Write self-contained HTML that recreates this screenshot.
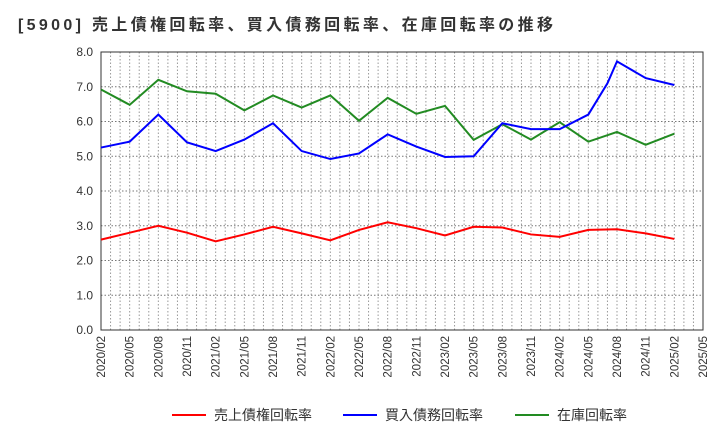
<!DOCTYPE html>
<html><head><meta charset="utf-8"><style>
body{margin:0;background:#fff;font-family:"Liberation Sans","Noto Sans CJK JP",sans-serif;}
</style></head><body>
<svg id="c" width="720" height="440" xmlns="http://www.w3.org/2000/svg">
<text x="18" y="30" font-size="16" font-weight="bold" fill="#333" textLength="535" lengthAdjust="spacing" font-family="Liberation Sans,Noto Sans CJK JP,sans-serif">[5900]  売上債権回転率、買入債務回転率、在庫回転率の推移</text>
</svg>
<script>
const xLabels=["2020/02","2020/05","2020/08","2020/11","2021/02","2021/05","2021/08","2021/11","2022/02","2022/05","2022/08","2022/11","2023/02","2023/05","2023/08","2023/11","2024/02","2024/05","2024/08","2024/11","2025/02","2025/05"];
const yTicks=[0,1,2,3,4,5,6,7,8];
const qMonths=[0,3,6,9,12,15,18,21,24,27,30,33,36,39,42,45,48,51,54,57,60];
const redVals=[2.6,2.8,3.0,2.8,2.55,2.75,2.97,2.78,2.58,2.88,3.1,2.93,2.72,2.97,2.95,2.75,2.68,2.88,2.9,2.78,2.62];
const blueMonths=[0,3,6,9,12,15,18,21,24,27,30,33,36,39,42,45,48,51,53,54,57,60];
const blueVals=[5.25,5.42,6.2,5.4,5.15,5.48,5.95,5.15,4.92,5.08,5.63,5.28,4.98,5.0,5.95,5.78,5.78,6.2,7.1,7.73,7.25,7.05];
const greenVals=[6.92,6.48,7.2,6.87,6.8,6.32,6.75,6.4,6.75,6.02,6.68,6.22,6.45,5.47,5.92,5.48,5.98,5.42,5.7,5.33,5.65];
const L=101,R=703,T=52,B=330,NM=63,YMAX=8;
const xs=m=>L+(R-L)*m/NM, ys=v=>B-(B-T)*v/YMAX;
const svg=document.getElementById('c');const NS='http://www.w3.org/2000/svg';
function mk(t,a,p){const e=document.createElementNS(NS,t);for(const k in a)e.setAttribute(k,a[k]);(p||svg).appendChild(e);return e;}
const g=mk('g',{});


for(let m=1;m<NM;m++){const x=xs(m);mk('line',{x1:x,x2:x,y1:T,y2:B,stroke:'#999','stroke-dasharray':'1.5,2','stroke-width':1},g);}
yTicks.forEach(v=>{const y=ys(v);mk('line',{x1:L,x2:R,y1:y,y2:y,stroke:'#777','stroke-dasharray':'1.5,2','stroke-width':1},g);
const t=mk('text',{x:L-8,y:y+4,'text-anchor':'end','font-size':12,fill:'#333'});t.textContent=v.toFixed(1);

});
const fr=mk('rect',{x:L,y:T,width:R-L,height:B-T,fill:'none',stroke:'#333','stroke-width':1});


xLabels.forEach((s,i)=>{const x=xs(i*3);const t=mk('text',{transform:`translate(${x+4},${B+6}) rotate(-90)`,'text-anchor':'end','font-size':11.5,fill:'#333'});t.textContent=s;

});
function line(ms,vs,col,name){const p=mk('polyline',{points:ms.map((m,i)=>xs(m)+','+ys(vs[i])).join(' '),fill:'none',stroke:col,'stroke-width':2});

}
line(qMonths,greenVals,'#228b22','inventory-turnover-line');
line(blueMonths,blueVals,'#0000ff','payables-turnover-line');
line(qMonths,redVals,'#ff0000','receivables-turnover-line');
const leg=[['売上債権回転率','#ff0000',172],['買入債務回転率','#0000ff',343],['在庫回転率','#228b22',515]];
leg.forEach(([s,c,x])=>{const gg=mk('g',{});


mk('line',{x1:x,x2:x+34,y1:415,y2:415,stroke:c,'stroke-width':2},gg);
const t=mk('text',{x:x+42,y:420,'font-size':14,fill:'#333'},gg);t.textContent=s;});
</script>
</body></html>
